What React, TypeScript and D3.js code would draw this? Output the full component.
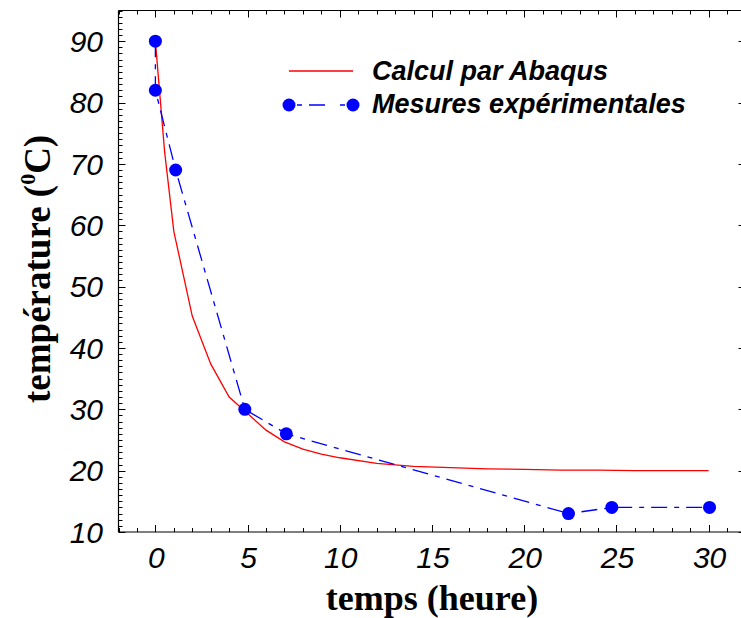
import React from "react";
import * as d3 from "d3";

const calcT = [0, 0.5, 1, 2, 3, 4, 5, 6, 7, 8, 9, 10, 12, 14, 16, 18, 20, 22, 24, 26, 28, 30];
const calcV = [90, 72, 59, 45.2, 37.4, 32, 29.3, 26.6, 24.7, 23.5, 22.7, 22.1, 21.2, 20.7, 20.5, 20.3, 20.2, 20.1, 20.1, 20.0, 20.0, 20.0];
const mesT = [0, 0, 1.1, 4.85, 7.1, 22.4, 24.75, 30.05];
const mesV = [90, 82, 69, 30, 26, 13, 14, 14];
const xTicks = [0, 5, 10, 15, 20, 25, 30];
const yTicks = [10, 20, 30, 40, 50, 60, 70, 80, 90];
const legendLabels = ["Calcul par Abaqus", "Mesures expérimentales"];

const W = 741, H = 618;
const L = 118.5, R = 745.5, T = 10.5, B = 532;

export default function App() {
  const x = d3.scaleLinear().domain([-2, 32]).range([L, R]);
  const y = d3.scaleLinear().domain([10, 95]).range([B, T]);
  const line = d3.line<[number, number]>().x(d => x(d[0])).y(d => y(d[1]));
  const calc: [number, number][] = calcT.map((t, i) => [t, calcV[i]]);
  const mes: [number, number][] = mesT.map((t, i) => [t, mesV[i]]);
  const xMinor = d3.range(-2, 33, 1);
  const yMinor = d3.range(10, 96, 1);
  const sans = "'Liberation Sans', Arial, sans-serif";
  const serif = "'Liberation Serif', 'Times New Roman', serif";
  const dash = "16,7,5,7";

  return (
    <svg width={W} height={H} style={{ position: "absolute", left: 0, top: 0, background: "#fff" }}>
      <rect x={0} y={0} width={W} height={H} fill="#fff" />
      {/* frame */}
      <line x1={L} y1={T} x2={L} y2={B} stroke="#000" strokeWidth={1.2} />
      <line x1={L} y1={B} x2={R} y2={B} stroke="#000" strokeWidth={1.2} />
      <line x1={L} y1={T} x2={R} y2={T} stroke="#000" strokeWidth={1.2} />
      <line x1={R} y1={T} x2={R} y2={B} stroke="#000" strokeWidth={1.2} />
      {/* x ticks */}
      {xMinor.map(v => {
        const major = xTicks.includes(v);
        const len = major ? 7 : 4;
        const px = Math.round(x(v)) + 0.5;
        return (
          <g key={"xt" + v}>
            <line x1={px} x2={px} y1={B} y2={B - len} stroke="#000" strokeWidth={1} />
            <line x1={px} x2={px} y1={T} y2={T + len} stroke="#000" strokeWidth={1} />
          </g>
        );
      })}
      {/* y ticks */}
      {yMinor.map(v => {
        const major = yTicks.includes(v);
        const len = major ? 7 : 4;
        const py = Math.round(y(v)) + 0.5;
        return (
          <g key={"yt" + v}>
            <line x1={L} x2={L + len} y1={py} y2={py} stroke="#000" strokeWidth={1} />
            <line x1={R} x2={R - len} y1={py} y2={py} stroke="#000" strokeWidth={1} />
          </g>
        );
      })}
      {/* tick labels */}
      {xTicks.map(v => (
        <text key={"xl" + v} x={x(v) + 1} y={568} textAnchor="middle" fontFamily={sans} fontStyle="italic" fontSize={30} fill="#000">{v}</text>
      ))}
      {yTicks.map(v => (
        <text key={"yl" + v} x={103} y={y(v) + 10.8} textAnchor="end" fontFamily={sans} fontStyle="italic" fontSize={30} fill="#000">{v}</text>
      ))}
      {/* axis titles */}
      <text x={432} y={610} textAnchor="middle" fontFamily={serif} fontWeight="bold" fontSize={36} fill="#000">temps (heure)</text>
      <text transform={`translate(50,403) rotate(-90)`} textAnchor="start" fontFamily={serif} fontWeight="bold" fontSize={37} fill="#000">
        température (<tspan fontSize={22} dy={-15}>0</tspan><tspan dy={15}>C)</tspan>
      </text>
      {/* data */}
      <path d={line(calc) || ""} fill="none" stroke="#ff0000" strokeWidth={1.3} />
      <path d={line(mes) || ""} fill="none" stroke="#0000ff" strokeWidth={1.3} strokeDasharray={dash} />
      {mes.map((d, i) => (
        <circle key={"m" + i} cx={x(d[0])} cy={y(d[1])} r={6.5} fill="#0000ff" />
      ))}
      {/* legend */}
      <line x1={289} x2={353} y1={71} y2={71} stroke="#ff0000" strokeWidth={1.3} />
      <line x1={289} x2={353} y1={105} y2={105} stroke="#0000ff" strokeWidth={1.3} strokeDasharray={"0,8,5,7,16,7"} />
      <circle cx={289} cy={105} r={6.5} fill="#0000ff" />
      <circle cx={353} cy={105} r={6.5} fill="#0000ff" />
      <text x={372} y={79.5} fontFamily={sans} fontWeight="bold" fontStyle="italic" fontSize={27} fill="#000">{legendLabels[0]}</text>
      <text x={372} y={113} fontFamily={sans} fontWeight="bold" fontStyle="italic" fontSize={27} fill="#000">{legendLabels[1]}</text>
    </svg>
  );
}
